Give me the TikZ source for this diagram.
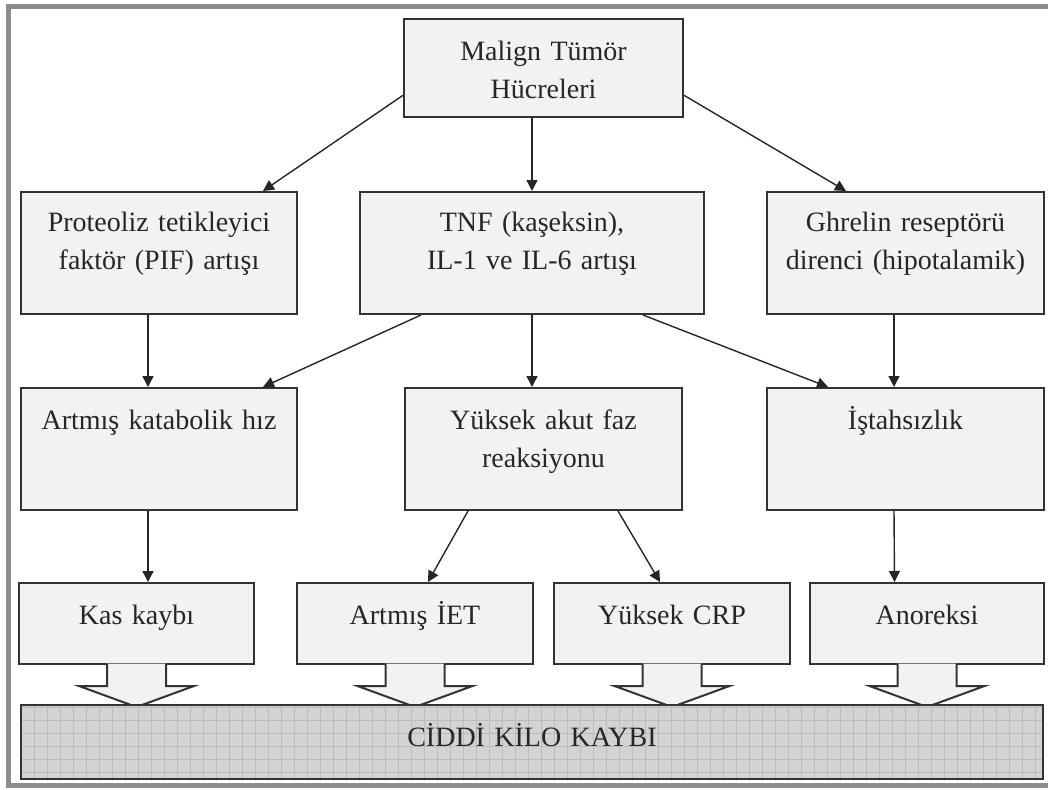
\documentclass[tikz,border=0pt]{standalone}
\usepackage{fontspec}
\setmainfont{Liberation Serif}
\usetikzlibrary{arrows.meta,calc}

\definecolor{boxgray}{HTML}{F2F2F2}
\definecolor{lossgray}{HTML}{D3D3D3}
\definecolor{gridgray}{HTML}{BCBCBC}
\definecolor{linegray}{HTML}{333333}
\definecolor{framegray}{HTML}{8C8C8C}

\begin{document}
\begin{tikzpicture}[
    x=0.5pt, y=0.5pt,
    font=\fontsize{14pt}{19pt}\selectfont,
    every node/.style={text=black!85, inner sep=0pt, align=center, anchor=north west},
    stage/.style={draw=linegray, fill=boxgray, line width=1pt, text width=#1},
    stage/.default=138pt,
    upper/.style={text height=19.5pt, text depth=41.5pt},
    middle/.style={text height=20.5pt, text depth=40.5pt},
    lower/.style={text height=20.5pt, text depth=20pt},
    link/.style={draw=black!85, line width=0.7pt, -{Triangle[length=5.5pt,width=5.5pt]}},
    blockline/.style={draw=linegray, line width=1pt}]

\useasboundingbox (0,0) rectangle (1048,789);
\draw[framegray, line width=2.5pt] (1060,782) -- (8,782) -- (8,4) -- (1060,4);

% source
\node[stage=139.5pt, text height=21pt, text depth=28pt] (malign) at (403,771) {Malign Tümör\\Hücreleri};

% mediators
\node[stage=138pt, upper] (pif) at (20,598) {Proteoliz tetikleyici\\faktör (PIF) artışı};
\node[stage=172pt, upper] (tnf) at (359,598) {TNF (kaşeksin),\\IL-1 ve IL-6 artışı};
\node[stage=138.5pt, upper] (ghrelin) at (766,598) {Ghrelin reseptörü\\direnci (hipotalamik)};

% effects
\node[stage=138pt, middle] (katabolik) at (20,402) {Artmış katabolik hız};
\node[stage=138.5pt, middle] (akut) at (404,402) {Yüksek akut faz\\reaksiyonu};
\node[stage=138.5pt, middle] (istah) at (766,402) {İştahsızlık};

% results
\node[stage=117.5pt, lower] (kas) at (18,207) {Kas kaybı};
\node[stage=118pt, lower] (iet) at (296,207) {Artmış İET};
\node[stage=118pt, lower] (crp) at (553,207) {Yüksek CRP};
\node[stage=117pt, lower] (anoreksi) at (809,207) {Anoreksi};

\foreach \n in {kas,iet,crp,anoreksi}{
    \fill[boxgray] ($(\n.south)+(-29.5,1.5)$) -- ++(0,-22.5) -- ++(-28,0) -- ++(57.5,-21)
        -- ++(57.5,21) -- ++(-28,0) -- ++(0,22.5) -- cycle;
    \draw[blockline] ($(\n.south)+(-29.5,1)$) -- ++(0,-22) -- ++(-28,0) -- ++(57.5,-21)
        -- ++(57.5,21) -- ++(-28,0) -- ++(0,22);
}

% outcome
\node[draw=linegray, fill=lossgray, line width=1pt, text width=511pt,
      text height=20.5pt, text depth=16.5pt,
      path picture={\draw[gridgray, line width=0.2pt]
          (path picture bounding box.south west) grid[step=6.5pt]
          (path picture bounding box.north east);}] (kilo) at (20,85) {CİDDİ KİLO KAYBI};

% links
\draw[link] (malign.191) -- ($(pif.north)+(104,0)$);
\draw[link] (tnf.north |- malign.south) -- (tnf.north);
\draw[link] (malign.349) -- ($(ghrelin.north)+(-59.5,0)$);
\draw[link] ($(pif.south)+(-11,0)$) -- ($(katabolik.north)+(-11,0)$);
\draw[link] ($(tnf.south)+(-111,0)$) -- ($(katabolik.north)+(104,0)$);
\draw[link] (tnf.south) -- (tnf.south |- akut.north);
\draw[link] ($(tnf.south)+(111,0)$) -- ($(istah.north)+(-77.5,0)$);
\draw[link] ($(ghrelin.south)+(-11.5,0)$) -- ($(istah.north)+(-11.5,0)$);
\draw[link] ($(katabolik.south)+(-11,0)$) -- ($(kas.north)+(11.5,0)$);
\draw[link] ($(akut.south)+(-75.5,0)$) -- ($(iet.north)+(13,0)$);
\draw[link] ($(akut.south)+(74.5,0)$) -- ($(crp.north)+(-12,0)$);
\draw[link] ($(istah.south)+(-11.5,0)$) -- ($(anoreksi.north)+(-32.5,0)$);

\end{tikzpicture}
\end{document}
